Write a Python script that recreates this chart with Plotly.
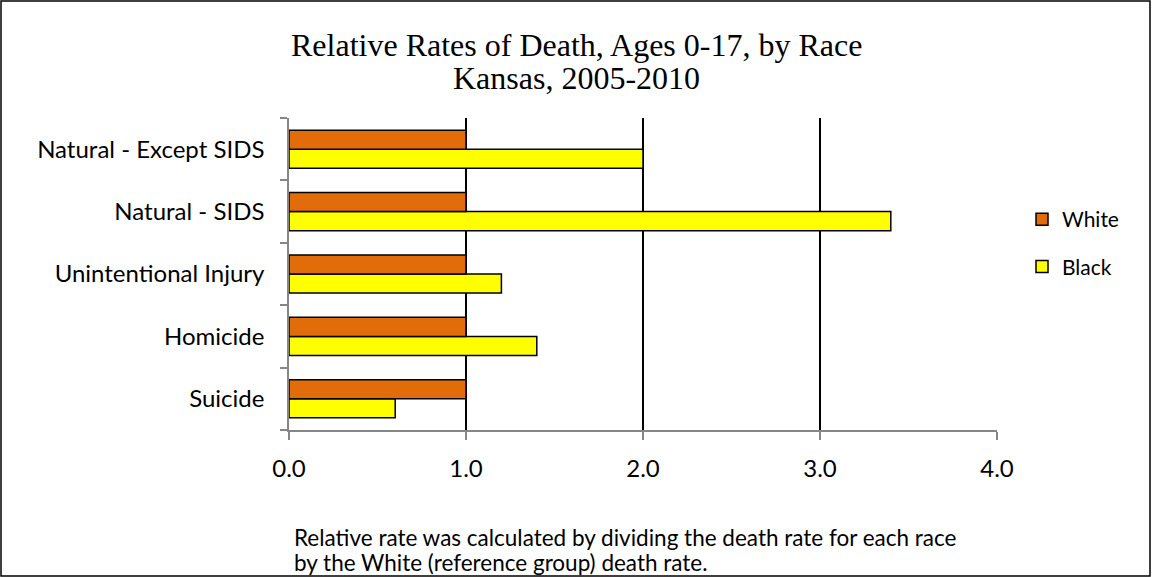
import plotly.graph_objects as go

# categories listed bottom-to-top
causes = ["Suicide", "Homicide", "Unintentional Injury", "Natural - SIDS", "Natural - Except SIDS"]
white = [1.0, 1.0, 1.0, 1.0, 1.0]
black = [0.6, 1.4, 1.2, 3.4, 2.0]
x_ticks = [0, 1, 2, 3, 4]
x_labels = ["0.0", "1.0", "2.0", "3.0", "4.0"]
note_lines = ["Relative rate was calculated by dividing the death rate for each race",
              "by the White (reference group) death rate."]

W, H = 1153, 577
L, R, T, B = 289, 156, 118, 147
pw, ph = W - L - R, H - T - B

def px_x(v):
    return (v - L) / pw

def px_y(v):
    return 1 - (v - T) / ph

fig = go.Figure()
fig.add_trace(go.Bar(y=causes, x=black, orientation="h", name="Black",
                     legendgroup="b", legendrank=2,
                     marker=dict(color="#FFFF00", line=dict(color="black", width=1.5))))
fig.add_trace(go.Bar(y=causes, x=white, orientation="h", name="White",
                     legendgroup="w", legendrank=1,
                     marker=dict(color="#E36C0A", line=dict(color="black", width=1.5))))

fig.update_layout(
    width=W, height=H,
    margin=dict(l=L, r=R, t=T, b=B),
    paper_bgcolor="white", plot_bgcolor="white",
    barmode="group", bargap=0.39, bargroupgap=0,
    font=dict(family="Lato", size=24, color="black"),
    legend=dict(x=px_x(1022), y=px_y(199), xanchor="left", yanchor="top",
                traceorder="grouped", font=dict(size=21), itemwidth=30,
                tracegroupgap=17, bgcolor="rgba(0,0,0,0)"),
    showlegend=True,
)

# title, two lines
for txt, yc in [("Relative Rates of Death, Ages 0-17, by Race", 45), ("Kansas, 2005-2010", 78)]:
    fig.add_annotation(text=txt, xref="paper", yref="paper", x=px_x(576), y=px_y(yc),
                       xanchor="center", yanchor="middle", showarrow=False,
                       font=dict(family="Liberation Serif", size=32, color="black"))

fig.update_xaxes(range=[0, 4], tickvals=x_ticks, ticktext=x_labels,
                 showgrid=True, gridcolor="black", gridwidth=1.5,
                 zeroline=False, showline=True, linecolor="#868686", linewidth=1.5,
                 ticks="outside", ticklen=8, tickcolor="#868686", tickwidth=1.5,
                 ticklabelstandoff=8)
fig.update_yaxes(showline=True, linecolor="#868686", linewidth=1.5,
                 ticks="outside", ticklen=7, tickcolor="#868686", tickwidth=1.5,
                 tickson="boundaries", showgrid=False, ticklabelstandoff=18)

# outer frame
fig.add_shape(type="rect", xref="paper", yref="paper",
              x0=px_x(1), x1=px_x(W - 3), y0=px_y(H - 1), y1=px_y(1),
              line=dict(color="black", width=1.5), fillcolor="rgba(0,0,0,0)")

for txt, yc in zip(note_lines, [537, 562]):
    fig.add_annotation(text=txt, xref="paper", yref="paper", x=px_x(292), y=px_y(yc),
                       xanchor="left", yanchor="middle", align="left", showarrow=False,
                       font=dict(family="Lato", size=22.5, color="black"))

fig.write_html("out.html", config={"displayModeBar": False},
               post_script="document.body.style.margin='0';")
